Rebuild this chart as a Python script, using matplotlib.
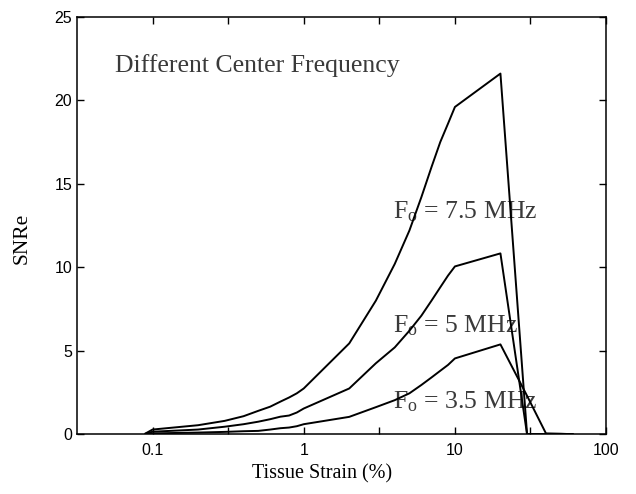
import numpy as np
import matplotlib
matplotlib.use('Agg')
import matplotlib.pyplot as plt
from matplotlib.ticker import FixedLocator, FuncFormatter

plt.rcParams['mathtext.fontset'] = 'custom'
plt.rcParams['mathtext.rm'] = 'Liberation Serif'
plt.rcParams['mathtext.it'] = 'Liberation Serif:italic'

# ==================== data ====================
strain_75 = [0.09, 0.1, 0.2, 0.3, 0.4, 0.5, 0.6, 0.7, 0.8, 0.9, 1, 2, 3, 4, 5,
             6, 7, 8, 9, 10, 20, 30, 40, 60]
snre_75 = [0.05, 0.28, 0.54, 0.8, 1.08, 1.4, 1.65, 1.95, 2.2, 2.45, 2.74, 5.44,
           8.0, 10.2, 12.2, 14.2, 16.0, 17.5, 18.6, 19.6, 21.6, 0.0, 0.0, 0.0]

strain_5 = [0.09, 0.1, 0.2, 0.3, 0.4, 0.5, 0.6, 0.7, 0.8, 0.9, 1, 2, 3, 4, 5,
            6, 7, 8, 9, 10, 20, 30, 40, 60]
snre_5 = [0.03, 0.15, 0.28, 0.45, 0.6, 0.75, 0.9, 1.05, 1.12, 1.3, 1.54, 2.74,
          4.25, 5.2, 6.2, 7.1, 8.0, 8.8, 9.5, 10.05, 10.83, 0.0, 0.0, 0.0]

strain_35 = [0.09, 0.1, 0.2, 0.3, 0.4, 0.5, 0.6, 0.7, 0.8, 0.9, 1, 2, 3, 4, 5,
             6, 7, 8, 9, 10, 20, 30, 40, 50, 60]
snre_35 = [0.01, 0.05, 0.1, 0.14, 0.18, 0.2, 0.28, 0.36, 0.4, 0.48, 0.6, 1.04,
           1.62, 2.04, 2.45, 2.95, 3.4, 3.8, 4.15, 4.54, 5.38, 2.3, 0.05, 0.03, 0.0]

x_ticks = [0.0316, 0.1, 0.316, 1, 3.16, 10, 31.6, 100]
x_tick_labels = {0.1: '0.1', 1: '1', 10: '10', 100: '100'}
y_ticks = [0, 5, 10, 15, 20, 25]

curve_labels = ['7.5', '5', '3.5']

# ==================== plot ====================
fig = plt.figure(figsize=(6.36, 4.94), dpi=100)
ax = fig.add_axes([0.121, 0.121, 0.832, 0.845])

for xs, ys in [(strain_75, snre_75), (strain_5, snre_5), (strain_35, snre_35)]:
    ax.plot(xs, ys, '-', color='black', linewidth=1.4, zorder=3)

ax.set_xscale('log')
ax.set_xlim(10 ** -1.5, 100)
ax.set_ylim(0, 25)

ax.xaxis.set_major_locator(FixedLocator(x_ticks))
ax.xaxis.set_minor_locator(FixedLocator([]))
ax.xaxis.set_major_formatter(FuncFormatter(
    lambda v, pos: next((s for k, s in x_tick_labels.items()
                         if abs(v - k) / k < 1e-3), '')))
ax.yaxis.set_major_locator(FixedLocator(y_ticks))

ax.tick_params(axis='both', which='both', direction='in', top=True,
               right=True, length=5, width=1.0, labelsize=11.5)
ax.tick_params(axis='x', pad=6)
for lbl in ax.get_xticklabels() + ax.get_yticklabels():
    lbl.set_fontfamily('Liberation Sans')

for sp in ax.spines.values():
    sp.set_linewidth(1.1)

ax.set_xlabel('Tissue Strain (%)', fontfamily='Liberation Serif',
              fontsize=14.5)
ax.xaxis.set_label_coords(0.463, -0.072)
ax.set_ylabel('SNRe', fontfamily='Liberation Serif', fontsize=15.5)
ax.yaxis.set_label_coords(-0.086, 0.468)

txt_color = '#3a3a3a'
ax.text(0.0566, 21.7, 'Different Center Frequency',
        fontfamily='Liberation Serif', fontsize=18.5, color=txt_color,
        ha='left', va='baseline', zorder=5)

label_pos = [(3.87, 12.95), (3.87, 6.1), (3.87, 1.56)]
for (tx, ty), lab in zip(label_pos, curve_labels):
    ax.text(tx, ty, 'F$_{\\mathrm{o}}$ = ' + lab + ' MHz',
            fontfamily='Liberation Serif', fontsize=18.5, color=txt_color,
            ha='left', va='baseline', zorder=2)

fig.savefig('out.png', dpi=100)
